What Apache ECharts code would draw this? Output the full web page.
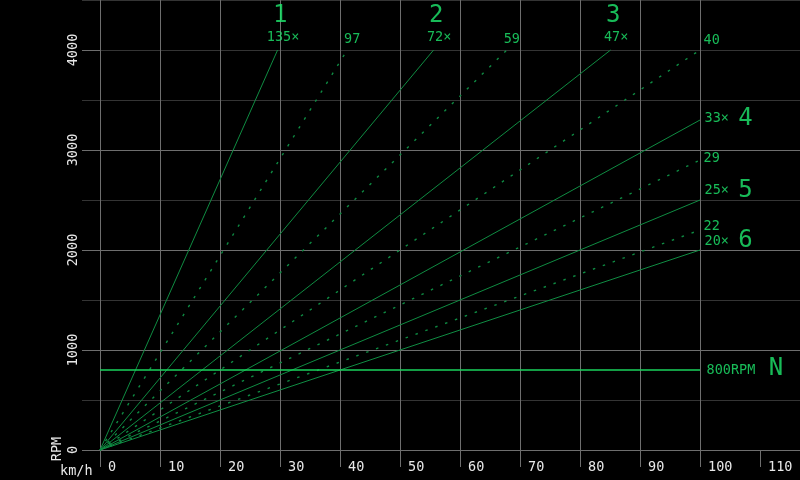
<!DOCTYPE html>
<html><head><meta charset="utf-8">
<script src="https://cdn.jsdelivr.net/npm/echarts@6/dist/echarts.min.js"></script>
<style>html,body{margin:0;padding:0;background:#000;}#c{width:800px;height:480px;}</style>
</head><body><div id="c"></div>
<script>
// ---- data ----
const xTickValues = [0,10,20,30,40,50,60,70,80,90,100,110];
const yMajorTicks = [0,1000,2000,3000,4000];
const gearNames = ['1','2','3','4','5','6'];
const gearRatioLabels = ['135×','72×','47×','33×','25×','20×'];
const gearEndKmh = [29.6, 55.6, 85.1, 100, 100, 100];
const gearEndRpm = [4000, 4000, 4000, 3300, 2500, 2000];
const midRatioLabels = ['97','59','40','29','22'];
const midEndKmh = [41.2, 67.8, 100, 100, 100];
const midEndRpm = [4000, 4000, 4000, 2900, 2200];
const idleRpm = 800;
const idleEndKmh = 100;
const idleLabel = '800RPM';
const idleName = 'N';
const xName = 'km/h';
const yName = 'RPM';

// ---- styles / placement ----
const GREEN = '#1eea6e';
const LINE = '#0f8c42';
const DOT = '#0e8a42';
const IDLE = '#1ad35c';
const MAJOR = '#6e6e6e';
const MINOR = '#343434';
const TXT = '#e8e8e8';
const FONT = '"DejaVu Sans Mono", monospace';
const gearRatioOffset = [[6,-12],[6,-12],[6,-12],[5,-1],[5,-9],[5,-8.5]];
const gearNameOffset  = [[3,-34],[3,-34],[3,-34],[46,-1],[46,-9],[46,-8.5]];
const midOffset = [[5.5,-10],[5.5,-10],[4,-9],[4,-1],[4,-3.5]];

const series = [];
gearEndKmh.forEach((x, i) => {
  series.push({type:'line', data:[[0,0],[x, gearEndRpm[i]]], showSymbol:false, silent:true,
    lineStyle:{color:LINE, width:1}, z:2});
});
midEndKmh.forEach((x, i) => {
  series.push({type:'line', data:[[0,0],[x, midEndRpm[i]]], showSymbol:false, silent:true,
    lineStyle:{color:DOT, width:1.4, type:[2.5,8]}, z:2});
});
series.push({type:'line', data:[[0,idleRpm],[idleEndKmh,idleRpm]], showSymbol:false, silent:true,
  lineStyle:{color:IDLE, width:1.3}, z:3});

const labelItems = [];
function lab(x, y, text, offset, align, size) {
  labelItems.push({name:text, value:[x,y], label:{offset:offset, align:align, fontSize:size}});
}
gearEndKmh.forEach((x, i) => {
  const top = gearEndRpm[i] >= 4000;
  lab(x, gearEndRpm[i], gearRatioLabels[i], gearRatioOffset[i], top ? 'center' : 'left', 13.5);
  lab(x, gearEndRpm[i], gearNames[i], gearNameOffset[i], 'center', 24);
});
midEndKmh.forEach((x, i) => {
  const top = midEndKmh[i] < 100;
  lab(x, midEndRpm[i], midRatioLabels[i], midOffset[i], top ? 'center' : 'left', 13.5);
});
lab(idleEndKmh, idleRpm, idleLabel, [7, 1], 'left', 13.5);
lab(idleEndKmh, idleRpm, idleName, [76.5, -1], 'center', 24);

series.push({type:'scatter', data:labelItems, symbolSize:1, silent:true, z:5,
  itemStyle:{color:'rgba(0,0,0,0)'},
  label:{show:true, formatter:'{b}', position:[0,0], verticalAlign:'middle',
    color:GREEN, fontFamily:FONT}});

const chart = echarts.init(document.getElementById('c'));
chart.setOption({
  backgroundColor:'#000',
  animation:false,
  grid:{left:100, right:0, top:0, bottom:30},
  xAxis:{type:'value', min:0, max:700/6, interval:10,
    axisLine:{show:false},
    axisTick:{show:true, length:17, lineStyle:{color:MAJOR}, customValues:xTickValues},
    splitLine:{show:true, showMaxLine:false, lineStyle:{color:MAJOR}},
    axisLabel:{customValues:xTickValues, color:TXT, fontFamily:FONT, fontSize:13.5, align:'left', verticalAlign:'middle',
      margin:17, padding:[0,0,0,8],
      formatter:v => { const r = Math.round(v/10)*10; return (Math.abs(v-r)<1e-6 && xTickValues.includes(r)) ? String(r) : ''; }}
  },
  yAxis:[
    {type:'value', min:0, max:4500, interval:500, position:'left', offset:0,
      axisLine:{show:false}, axisTick:{show:true, length:18, lineStyle:{color:MINOR}},
      splitLine:{show:true, lineStyle:{color:MINOR}}, axisLabel:{show:false}},
    {type:'value', min:0, max:4500, interval:1000, position:'left', offset:0,
      axisLine:{show:false},
      axisTick:{show:true, length:18, lineStyle:{color:MAJOR}, customValues:yMajorTicks},
      splitLine:{show:true, showMaxLine:false, lineStyle:{color:MAJOR}},
      axisLabel:{customValues:yMajorTicks, rotate:90, margin:20, color:TXT, fontFamily:FONT, fontSize:13.5,
        formatter:v => yMajorTicks.includes(Math.round(v)) ? String(Math.round(v)) : ''}}
  ],
  graphic:[
    {type:'text', x:60, y:471, silent:true, style:{text:xName, fill:TXT, font:'13.5px "DejaVu Sans Mono", monospace', align:'left', verticalAlign:'middle'}},
    {type:'text', x:57.5, y:449, rotation:Math.PI/2, silent:true, style:{text:yName, fill:TXT, font:'13.5px "DejaVu Sans Mono", monospace', align:'center', verticalAlign:'middle'}}
  ],
  series:series
});
</script></body></html>
